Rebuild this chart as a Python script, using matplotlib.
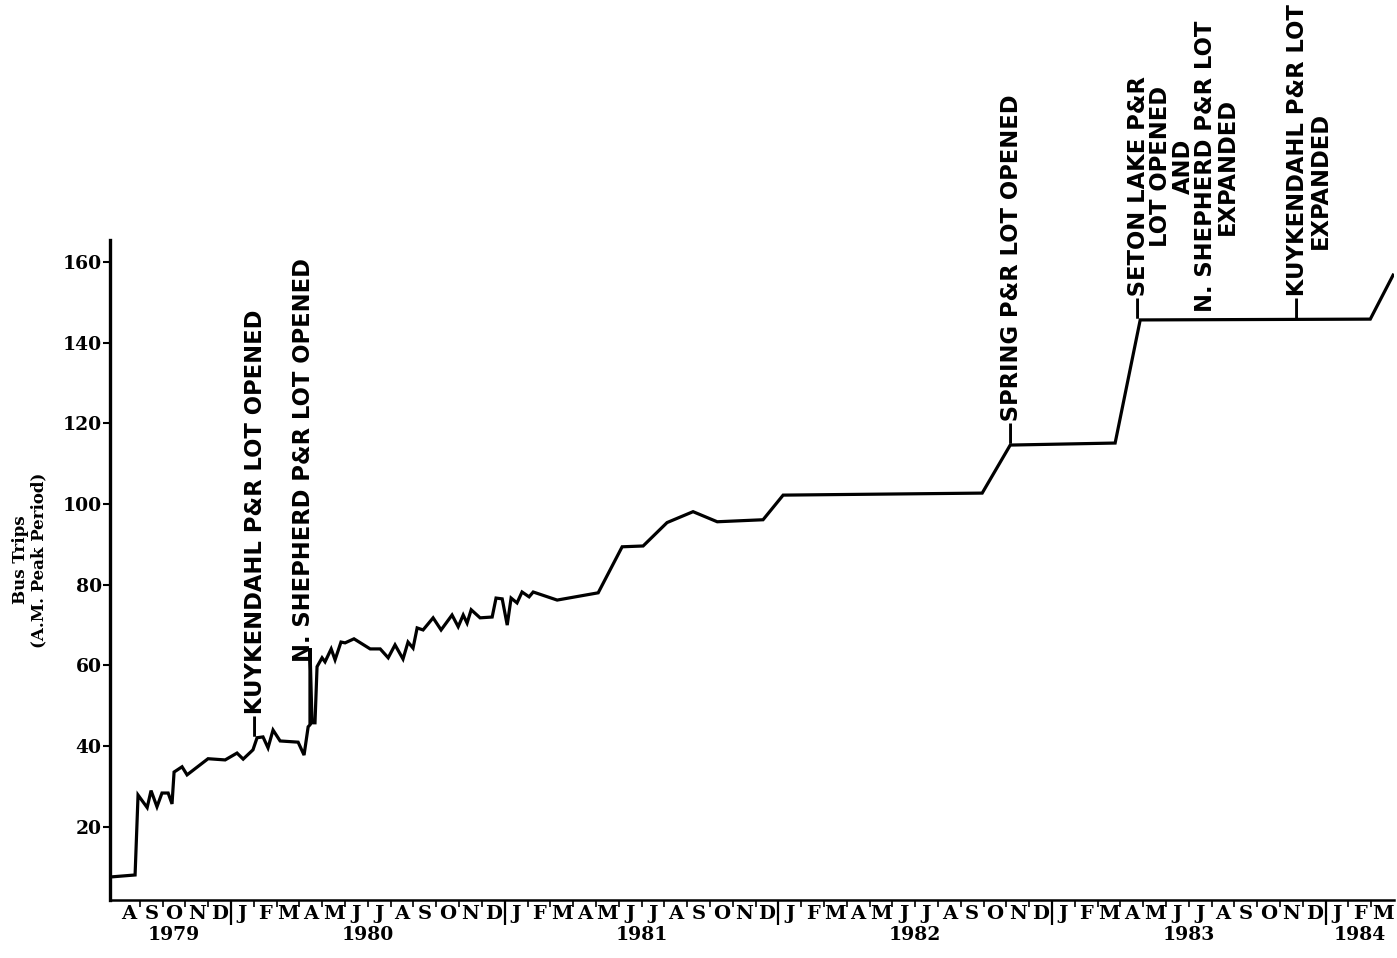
import numpy as np
import matplotlib.pyplot as plt

# x position in months, 0 = start of August 1979
months = [-0.30, 0.79, 0.92, 1.32, 1.49, 1.75, 1.97, 2.24, 2.41, 2.50,
          2.85, 3.07, 3.99, 4.74, 5.26, 5.53, 5.96, 6.14, 6.40, 6.62,
          6.84, 7.15, 7.94, 8.20, 8.38, 8.46, 8.46, 8.55, 8.68, 8.77,
          8.99, 9.12, 9.39, 9.56, 9.82, 10.00, 10.39, 11.10, 11.54, 11.89,
          12.19, 12.54, 12.76, 12.98, 13.16, 13.42, 13.86, 14.21, 14.69, 14.96,
          15.18, 15.35, 15.53, 15.92, 16.45, 16.62, 16.89, 17.11, 17.28, 17.54,
          17.76, 18.07, 18.25, 19.30, 21.10, 22.15, 23.07, 24.12, 25.26, 26.32,
          28.33, 29.21, 37.94, 39.17, 43.77, 44.87, 54.96, 55.96]
bus_trips = [7.6, 8.1, 27.9, 24.8, 29.0, 25.0, 28.4, 28.4, 25.7, 33.6,
             34.9, 32.9, 36.9, 36.6, 38.3, 36.8, 39.1, 42.1, 42.3, 39.6,
             44.0, 41.3, 41.0, 37.8, 44.8, 45.3, 64.3, 45.8, 45.8, 59.7,
             61.9, 60.9, 64.1, 61.4, 65.8, 65.6, 66.6, 64.1, 64.1, 61.9,
             65.1, 61.6, 65.8, 64.3, 69.3, 68.8, 71.8, 68.8, 72.5, 69.6,
             72.5, 70.5, 73.8, 71.8, 72.0, 76.7, 76.5, 70.0, 76.7, 75.5,
             78.2, 77.0, 78.2, 76.2, 78.0, 89.4, 89.6, 95.4, 98.1, 95.6,
             96.1, 102.2, 102.7, 114.6, 115.1, 145.6, 145.8, 156.7]

month_labels = (['A', 'S', 'O', 'N', 'D']
                + ['J', 'F', 'M', 'A', 'M', 'J', 'J', 'A', 'S', 'O', 'N', 'D'] * 4
                + ['J', 'F', 'M'])
years = ['1979', '1980', '1981', '1982', '1983', '1984']
year_start = [0, 5, 17, 29, 41, 53]
year_end = [5, 17, 29, 41, 53, 56]

# events: month position, value at the event, label running up from the line
event_x = [6.05, 8.16, 39.22, 44.80, 51.75]
event_y = [42.3, 60.9, 114.8, 145.8, 145.8]
event_text = ['\u2014KUYKENDAHL P&R LOT OPENED',
              'N. SHEPHERD P&R LOT OPENED',
              '\u2014SPRING P&R LOT OPENED',
              '\u2014SETON LAKE P&R',
              '\u2014KUYKENDAHL P&R LOT']
# extra lines set beside the label (offset of their centre in points)
event_note = ['', '', '', 'LOT OPENED\nAND\nN. SHEPHERD P&R LOT\nEXPANDED', 'EXPANDED']
note_dx = [0, 0, 0, 40, 17]
note_dy = [0, 0, 0, 110, 100]

serif = 'DejaVu Serif'
sans = 'DejaVu Sans'

fig = plt.figure(figsize=(13.97, 9.58), dpi=100)
ax = fig.add_axes([110 / 1397, 58 / 958, 1284 / 1397, 660 / 958])

ax.plot(months, bus_trips, color='black', lw=2.3, solid_joinstyle='miter')

ax.set_xlim(-0.31, 56.0)
ax.set_ylim(1.9, 165.4)

for side in ['top', 'right']:
    ax.spines[side].set_visible(False)
ax.spines['left'].set_linewidth(2.4)
ax.spines['bottom'].set_linewidth(1.8)

ax.set_yticks(np.arange(20, 161, 20))
ax.tick_params(axis='y', direction='out', length=5, width=1.5, pad=1)
for lbl in ax.get_yticklabels():
    lbl.set_fontfamily(serif)
    lbl.set_fontweight('bold')
    lbl.set_fontsize(13.5)

# month boundaries as minor ticks, year boundaries as long major ticks
ax.set_xticks(year_start[1:])
ax.set_xticks([m for m in range(1, 56) if m not in year_start], minor=True)
ax.tick_params(axis='x', which='major', direction='out', length=18, width=1.6, labelbottom=False)
ax.tick_params(axis='x', which='minor', direction='out', length=5, width=1.2)

xt = ax.get_xaxis_transform()
for i, m in enumerate(month_labels):
    ax.text(i + 0.5, -0.007, m, transform=xt, ha='center', va='top',
            fontfamily=serif, fontweight='bold', fontsize=14)
for y, s, e in zip(years, year_start, year_end):
    ax.text((s + e) / 2, -0.040, y, transform=xt, ha='center', va='top',
            fontfamily=serif, fontweight='bold', fontsize=13.5)

fig.text(30 / 1397, 1 - 560 / 958, 'Bus Trips\n(A.M. Peak Period)', rotation=90,
         ha='center', va='center', multialignment='center',
         fontfamily=serif, fontweight='bold', fontsize=12, linespacing=1.1)

for x, y, t, note, dx, dy in zip(event_x, event_y, event_text, event_note, note_dx, note_dy):
    ax.text(x, y, t, rotation=90, ha='center', va='bottom',
            fontfamily=sans, fontweight='bold', fontsize=16.3)
    if note:
        ax.annotate(note, xy=(x, y), xytext=(dx, dy), textcoords='offset points',
                    rotation=90, ha='center', va='center', multialignment='center',
                    fontfamily=sans, fontweight='bold', fontsize=16.3, linespacing=0.96)

fig.savefig('out.png', dpi=100)
